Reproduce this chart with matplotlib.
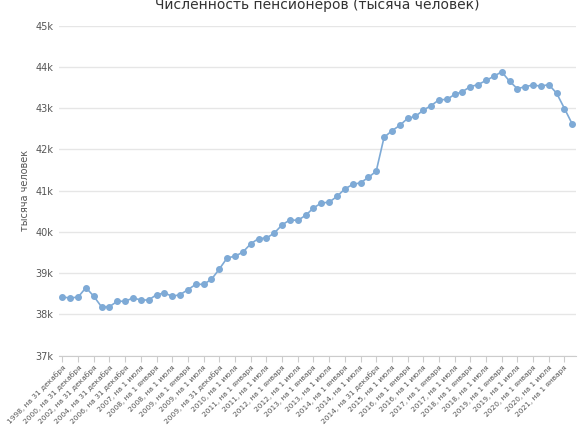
import matplotlib.pyplot as plt
from matplotlib.ticker import FuncFormatter

values = [38.42, 38.40, 38.42, 38.65, 38.44, 38.18, 38.19, 38.32, 38.32, 38.40,
          38.35, 38.35, 38.48, 38.52, 38.44, 38.48, 38.60, 38.73, 38.73, 38.85,
          39.10, 39.37, 39.41, 39.51, 39.71, 39.84, 39.85, 39.97, 40.17, 40.29,
          40.28, 40.40, 40.58, 40.70, 40.72, 40.86, 41.04, 41.15, 41.19, 41.32,
          41.47, 42.29, 42.45, 42.58, 42.75, 42.80, 42.95, 43.06, 43.20, 43.21,
          43.33, 43.40, 43.52, 43.57, 43.67, 43.77, 43.88, 43.65, 43.47, 43.52,
          43.56, 43.53, 43.57, 43.36, 42.99, 42.61]

shown_labels = ["1998, на 31 декабря", "2000, на 31 декабря", "2002, на 31 декабря",
                "2004, на 31 декабря", "2006, на 31 декабря", "2007, на 1 июля",
                "2008, на 1 января", "2008, на 1 июля", "2009, на 1 января",
                "2009, на 1 июля", "2009, на 31 декабря", "2010, на 1 июля",
                "2011, на 1 января", "2011, на 1 июля", "2012, на 1 января",
                "2012, на 1 июля", "2013, на 1 января", "2013, на 1 июля",
                "2014, на 1 января", "2014, на 1 июля", "2014, на 31 декабря",
                "2015, на 1 июля", "2016, на 1 января", "2016, на 1 июля",
                "2017, на 1 января", "2017, на 1 июля", "2018, на 1 января",
                "2018, на 1 июля", "2019, на 1 января", "2019, на 1 июля",
                "2020, на 1 января", "2020, на 1 июля", "2021, на 1 января"]

x = list(range(len(values)))
fig = plt.figure(figsize=(5.85, 4.26), dpi=100)
ax = fig.add_axes([0.1, 0.165, 0.885, 0.775])
ax.plot(x, values, color="#7eaad6", lw=1.2, marker="o", ms=4)
ax.set_ylim(37, 45)
ax.set_xlim(-0.5, len(values) - 0.5)
ax.set_yticks(range(37, 46))
ax.yaxis.set_major_formatter(FuncFormatter(lambda v, p: f"{int(v)}k"))
ax.set_xticks(x[::2])
ax.set_xticklabels(shown_labels, rotation=45, ha="right", rotation_mode="anchor",
                   fontsize=5.3, color="#555555")
ax.tick_params(axis="y", length=0, labelsize=7, labelcolor="#555555")
ax.tick_params(axis="x", length=4, color="#cccccc", pad=2)
ax.grid(axis="y", color="#e6e6e6", lw=1)
for s in ["top", "right", "left"]:
    ax.spines[s].set_visible(False)
ax.spines["bottom"].set_color("#cccccc")
ax.set_axisbelow(True)
ax.set_ylabel("тысяча человек", fontsize=7, color="#555555")
ax.set_title("Численность пенсионеров (тысяча человек)", fontsize=10, color="#333333", pad=12)
fig.savefig("out.png")
